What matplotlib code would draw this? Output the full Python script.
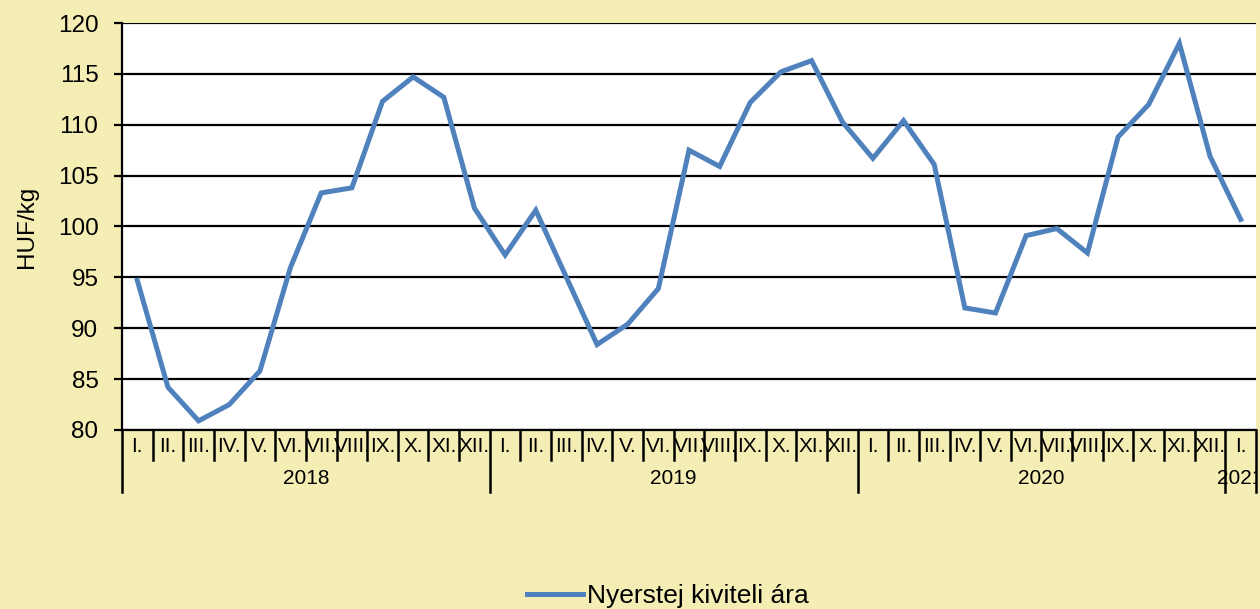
import numpy as np
import matplotlib
matplotlib.use("Agg")
import matplotlib.pyplot as plt
from matplotlib.transforms import Bbox

plt.rcParams['font.family'] = ['Liberation Sans', 'DejaVu Sans']

# monthly export price, Jan 2018 - Jan 2021
months = ["I.", "II.", "III.", "IV.", "V.", "VI.", "VII.", "VIII.", "IX.", "X.", "XI.", "XII."]
month_labels = months * 3 + ["I."]
years = ["2018", "2019", "2020", "2021"]
year_spans = [(0, 12), (12, 24), (24, 36), (36, 37)]
prices = [94.7, 84.2, 80.9, 82.5, 85.8, 96.0, 103.3, 103.8, 112.3, 114.7, 112.7, 101.8,
          97.2, 101.6, 95.0, 88.4, 90.4, 93.9, 107.5, 105.9, 112.2, 115.2, 116.3, 110.3,
          106.7, 110.4, 106.1, 92.0, 91.5, 99.1, 99.8, 97.4, 108.8, 112.0, 118.0, 106.9,
          100.7]
series_name = "Nyerstej kiviteli ára"

bg = "#F5EEB4"
W, H = 1260, 609
fig = plt.figure(figsize=(W / 100, H / 100), dpi=100, facecolor=bg)
ax = fig.add_axes([122 / W, (H - 430) / H, (1256 - 122) / W, (430 - 23) / H])
ax.set_facecolor("white")

x = np.arange(len(prices)) + 0.5
ax.plot(x, prices, color="#4F81BD", lw=3.6, solid_joinstyle="miter", label=series_name, zorder=3)

ax.set_xlim(0, len(prices))
ax.set_ylim(80, 120)
ax.set_yticks(np.arange(80, 121, 5))
ax.yaxis.grid(True, color="black", lw=1.6)
ax.set_axisbelow(True)
ax.tick_params(axis="y", labelsize=17.5, length=6, width=1.6, pad=11, direction="out")
ax.set_ylabel("HUF/kg", fontsize=17.5, labelpad=14)

for s in ["top", "right"]:
    ax.spines[s].set_visible(False)
for s in ["left", "bottom"]:
    ax.spines[s].set_linewidth(1.6)

# category axis drawn by hand: short month separators, long year separators
ax.set_xticks([])
tr = ax.get_xaxis_transform()
axh = 430 - 23
short = -30 / axh
long_ = -62 / axh
for i in range(len(prices) + 1):
    y0 = long_ if i % 12 == 0 or i == len(prices) else short
    ax.plot([i, i], [0, y0], color="black", lw=1.8, transform=tr, clip_on=False)

for xi, lab in zip(x, month_labels):
    ax.text(xi, -17 / axh, lab, transform=tr, ha="center", va="center", fontsize=15)

clip = Bbox.from_extents(0, 0, 1256, H)
for yr, (a, b) in zip(years, year_spans):
    t = ax.text((a + b) / 2, -49 / axh, yr, transform=tr, ha="center", va="center", fontsize=15)
    t.set_clip_box(clip)
    t.set_clip_on(True)

fig.legend(loc="center", bbox_to_anchor=(668 / W, 13 / H), frameon=False, fontsize=19,
           handlelength=2.1, handletextpad=0.15, borderpad=0)

fig.savefig("out.png", dpi=100, facecolor=bg)
